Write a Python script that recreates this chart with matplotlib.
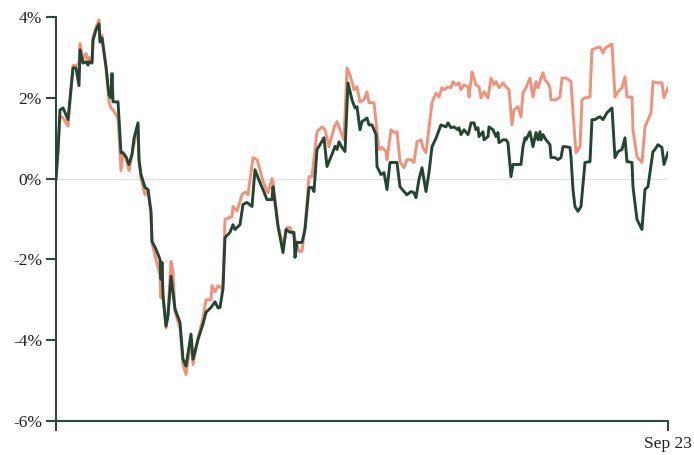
import matplotlib
matplotlib.use("Agg")
import matplotlib.pyplot as plt

# trading-day index (arbitrary units, last point = Sep 23) and cumulative % change
green_day = [0, 1, 2, 3.5, 6, 8.5, 10, 11.5, 12, 13.5, 15, 16, 16.5, 18, 18.5, 20, 21.5, 22, 23, 25,
             26.5, 27.5, 28, 28.5, 31, 32.5, 33.5, 35, 36.5, 38, 39, 41, 41.5, 42.5, 44.5, 46, 47.5, 48, 50, 52,
             52.5, 53, 53.5, 55, 56, 57.5, 59.5, 62, 63.5, 65, 67.5, 68.5, 71, 73.5, 75, 77.5, 79.5, 81, 82, 83.5,
             84.5, 87, 88.5, 89.5, 92, 93.5, 95.5, 98, 99.5, 102, 103.5, 105.5, 108, 108.5, 111, 113.5, 115, 117, 119, 119.5,
             120.5, 123, 124.5, 126.5, 128, 129, 130.5, 132, 134, 135.5, 138, 139.5, 140.5, 141.5, 143, 144.5, 146, 148, 149.5, 150.5,
             152, 153, 155.5, 156.5, 158, 160, 160.5, 162.5, 164, 165.5, 167, 170.5, 172, 174, 175.5, 177.5, 179, 180, 181.5, 183,
             185, 186.5, 188, 190, 192.5, 195, 196, 197.5, 199, 201, 201.5, 202.5, 204, 206, 206.5, 207.5, 209, 210, 211, 211.5,
             213.5, 214, 216, 216.5, 218.5, 220, 221, 221.5, 223.5, 225, 226, 227.5, 228.5, 231, 232.5, 233.5, 234.5, 235, 237, 238.5,
             240, 241, 242, 242.5, 243.5, 245, 247, 247.5, 249.5, 251, 252.5, 253.5, 255, 257, 257.5, 258.5, 259.5, 261, 262.5, 264.5,
             267, 268, 269.5, 271, 272, 273.5, 275.5, 278, 279.5, 281, 283, 284.5, 285.5, 288, 288.5, 290.5, 293, 294.5, 296, 298.5,
             299.5, 301, 303, 304, 306]
green = [0.0, 0.7, 1.7, 1.75, 1.46, 2.74, 2.74, 2.3, 3.19, 2.86, 2.89, 2.81, 2.89, 2.86, 3.43, 3.68, 3.83, 3.38, 3.48, 2.77,
         2.07, 2.0, 2.6, 1.9, 1.9, 0.64, 0.64, 0.54, 0.35, 0.6, 1.0, 1.38, 0.47, 0.1, -0.22, -0.27, -0.81, -1.55, -1.75, -2.0,
         -2.49, -2.07, -2.9, -3.65, -3.4, -2.42, -3.23, -3.56, -4.47, -4.64, -3.85, -4.47, -3.98, -3.6, -3.31, -3.19, -3.05, -3.2, -3.19, -2.72,
         -1.46, -1.33, -1.14, -1.26, -1.14, -0.64, -0.59, -0.69, 0.22, -0.1, -0.27, -0.52, -0.52, -0.2, -1.18, -1.83, -1.26, -1.33, -1.33, -1.95,
         -1.58, -1.58, -1.26, -0.22, -0.22, -0.32, 0.72, 0.84, 1.01, 0.3, 0.6, 0.8, 0.72, 0.91, 0.77, 0.67, 2.37, 1.95, 1.75, 1.78,
         1.21, 1.41, 1.5, 1.33, 1.33, 1.09, 0.3, 0.1, 0.15, -0.27, 0.4, 0.4, -0.2, -0.32, -0.4, -0.32, -0.35, -0.47, -0.02, 0.27,
         -0.32, 0.15, 0.79, 1.0, 1.33, 1.28, 1.38, 1.26, 1.28, 1.21, 1.26, 1.09, 1.21, 1.09, 1.16, 1.38, 1.38, 1.21, 1.26, 1.04,
         1.16, 0.96, 1.04, 1.28, 1.21, 1.04, 1.14, 0.89, 0.96, 0.96, 0.89, 0.05, 0.35, 0.35, 0.35, 0.79, 1.01, 0.96, 1.16, 0.79,
         1.14, 0.96, 1.16, 0.96, 1.09, 0.96, 0.84, 0.52, 0.52, 0.47, 0.52, 0.79, 0.79, 0.77, 0.54, -0.27, -0.69, -0.81, -0.69, 0.4,
         0.42, 1.46, 1.46, 1.51, 1.53, 1.46, 1.63, 1.75, 0.52, 0.67, 0.72, 1.01, 0.42, 0.4, -0.2, -1.01, -1.26, -0.27, -0.2, 0.67,
         0.72, 0.84, 0.77, 0.35, 0.64]

salmon_day = [0, 1, 2, 3.5, 6, 8.5, 10, 11.5, 12, 13.5, 15, 16, 16.5, 18, 18.5, 20, 21.5, 22, 23, 25,
              26.5, 27.5, 28.5, 31, 32.5, 33.5, 35, 36.5, 38, 39, 41, 41.5, 42.5, 44.5, 46, 47.5, 48, 50, 52, 52.5,
              53, 53.5, 55, 56, 57.5, 58.5, 59.5, 62, 63.5, 65, 67.5, 68.5, 71, 73.5, 75, 77.5, 78, 79.5, 81, 83,
              83.5, 84.5, 88, 88.5, 90.5, 93, 94.5, 96, 98.5, 100.5, 102, 103.5, 106, 108, 108.5, 111, 113.5, 115.5, 117, 119,
              121.5, 123, 124.5, 126.5, 128, 130.5, 133, 134.5, 136.5, 139, 140.5, 142, 144, 145.5, 147, 149, 150.5, 152, 154, 155.5,
              156.5, 159, 160.5, 161.5, 163, 165, 165.5, 167.5, 169, 170.5, 172, 174, 175.5, 177.5, 179, 180.5, 182.5, 183.5, 185, 186.5,
              188, 190, 191.5, 193, 194, 196, 197.5, 198.5, 200, 201.5, 202.5, 204, 206, 206.5, 208, 209, 210, 211.5, 212.5, 214,
              216, 217.5, 219, 220, 221.5, 223.5, 225, 226.5, 228, 229, 231, 232.5, 233.5, 235, 237, 238.5, 240, 241, 242.5, 243.5,
              244.5, 246, 247, 247.5, 250, 252, 253, 255, 257.5, 258.5, 260, 262, 263, 264.5, 267, 268, 270, 272, 273.5, 274.5,
              278, 279.5, 281, 283, 284.5, 285.5, 288, 288.5, 290.5, 293, 294.5, 297.5, 298.5, 300.5, 303, 304, 306]
salmon = [0.0, 0.7, 1.55, 1.5, 1.3, 2.8, 2.8, 2.85, 3.35, 2.95, 3.1, 2.9, 3.0, 2.9, 3.5, 3.75, 3.93, 3.5, 3.55, 2.75,
          1.9, 1.75, 1.7, 1.5, 0.2, 0.6, 0.5, 0.2, 0.6, 0.85, 1.3, 0.4, 0.0, -0.4, -0.3, -0.9, -1.6, -2.0, -2.4, -2.95,
          -2.2, -2.9, -3.7, -3.3, -2.05, -2.3, -3.3, -3.7, -4.6, -4.85, -4.0, -4.6, -3.95, -3.45, -3.0, -3.0, -2.65, -2.8, -2.65, -2.72,
          -2.6, -1.01, -0.94, -0.69, -0.8, -0.4, -0.33, -0.4, 0.52, 0.47, 0.22, -0.07, -0.35, 0.0, -0.07, -1.14, -1.68, -1.21, -1.21, -1.43,
          -1.8, -1.8, -1.19, 0.05, 0.05, 1.16, 1.28, 1.21, 0.79, 1.26, 1.41, 1.21, 0.96, 2.74, 2.57, 2.2, 2.27, 1.9, 1.95, 2.15,
          1.88, 1.88, 1.16, 0.72, 0.77, 0.67, 0.47, 1.21, 1.14, 1.16, 0.42, 0.27, 0.47, 0.47, 0.4, 0.91, 0.96, 0.77, 0.64, 1.26,
          1.88, 2.12, 2.02, 2.25, 2.2, 2.27, 2.25, 2.4, 2.32, 2.37, 2.2, 2.32, 2.27, 2.02, 2.64, 2.49, 2.32, 2.27, 2.0, 2.15,
          2.0, 2.49, 2.32, 2.4, 2.25, 2.37, 2.27, 2.2, 1.33, 1.7, 1.78, 1.53, 2.12, 2.25, 2.49, 2.02, 2.4, 2.25, 2.49, 2.62,
          2.44, 2.37, 2.25, 1.95, 1.95, 2.02, 2.49, 2.49, 2.4, 1.65, 0.64, 0.79, 1.95, 2.0, 2.02, 3.19, 3.23, 3.26, 3.11, 3.23,
          3.33, 2.02, 2.15, 2.25, 2.52, 2.02, 2.02, 1.21, 0.54, 0.4, 1.28, 1.63, 2.4, 2.37, 2.37, 2.0, 2.25]

y_ticks = [-6, -4, -2, 0, 2, 4]
y_labels = ["-6%", "-4%", "-2%", "0%", "2%", "4%"]
x_ticks = [0, 306]
x_labels = ["", "Sep 23"]

axis_color = "#2b4a39"
plt.rcParams["font.family"] = ["Liberation Serif", "DejaVu Serif"]

fig = plt.figure(figsize=(6.94, 4.55), dpi=100)
ax = fig.add_axes([0.0807, 0.0747, 0.8818, 0.8879])

ax.axhline(0, color="#e2e2e2", lw=1, zorder=1)
ax.plot(salmon_day, salmon, color="#f0917a", lw=2.1, solid_joinstyle="round", zorder=2)
ax.plot(green_day, green, color="#234531", lw=2.1, solid_joinstyle="round", zorder=3)

ax.set_xlim(0, 306)
ax.set_ylim(-6, 4)
ax.set_yticks(y_ticks, y_labels)
ax.set_xticks(x_ticks, x_labels)

for s in ["top", "right"]:
    ax.spines[s].set_visible(False)
for s in ["left", "bottom"]:
    ax.spines[s].set_color(axis_color)
    ax.spines[s].set_linewidth(1.5)

ax.tick_params(axis="both", colors=axis_color, length=7, width=1.5, labelsize=12.5,
               labelcolor="#222222")
ax.tick_params(axis="y", pad=3)
ax.tick_params(axis="x", pad=4)

fig.savefig("out.png", dpi=100)
